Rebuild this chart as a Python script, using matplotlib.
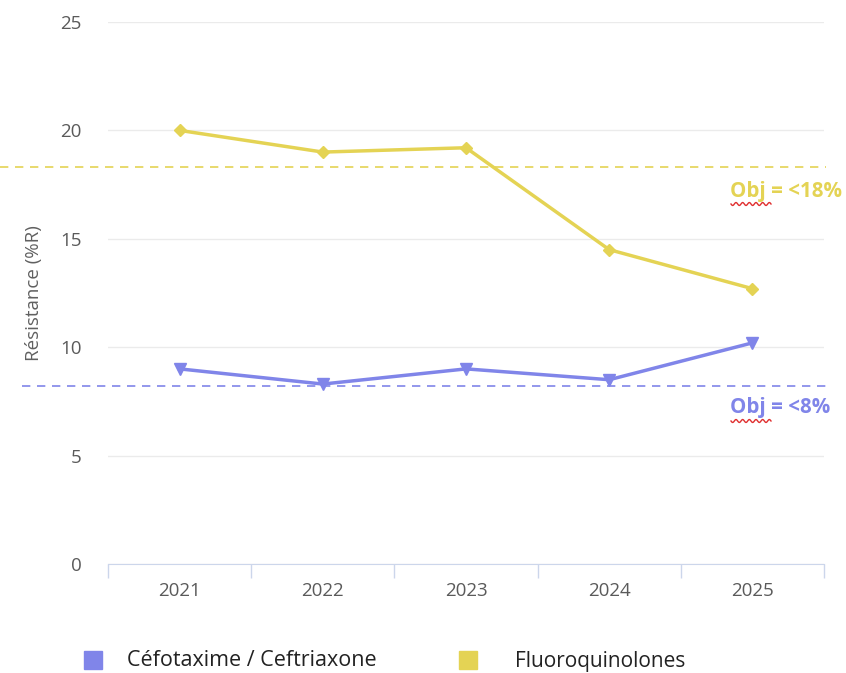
import matplotlib
matplotlib.use("Agg")
import matplotlib.pyplot as plt
import numpy as np

years = ["2021", "2022", "2023", "2024", "2025"]
cefo = [9.0, 8.3, 9.0, 8.5, 10.2]
fluo = [20.0, 19.0, 19.2, 14.5, 12.7]
obj_cefo = 8.2
obj_fluo = 18.3
blue = "#8085e9"
yellow = "#e4d354"

W, H = 846, 673
plt.rcParams['font.family'] = ['Open Sans', 'DejaVu Sans']
fig = plt.figure(figsize=(W/100, H/100), dpi=100)
ax = fig.add_axes([108/W, (H-564)/H, (824-108)/W, (564-22)/H])

x = np.arange(len(years))
ax.plot(x, fluo, color=yellow, lw=2.5, marker='D', ms=6, zorder=3)
ax.plot(x, cefo, color=blue, lw=2.5, marker='v', ms=9, zorder=3)

ax.set_xlim(-0.5, len(years)-0.5)
ax.set_ylim(0, 25)
ax.set_yticks([0, 5, 10, 15, 20, 25])
ax.set_xticks(x)
ax.set_xticklabels(years)
ax.set_xticks(np.arange(-0.5, len(years)), minor=True)
ax.tick_params(axis='x', which='major', length=0, pad=13, labelsize=13.5, labelcolor='#5a5a5a')
ax.tick_params(axis='x', which='minor', length=10, color='#ccd6eb', width=1)
ax.tick_params(axis='y', length=0, pad=19, labelsize=13.5, labelcolor='#5a5a5a')
ax.grid(axis='y', color='#ebebeb', lw=1)
ax.set_axisbelow(True)
for s in ['top', 'right', 'left']:
    ax.spines[s].set_visible(False)
ax.spines['bottom'].set_color('#ccd6eb')
ax.set_ylabel("Résistance (%R)", color='#606060', fontsize=13.5, labelpad=12)

# objective lines extending beyond the axes
ax.plot([-0.5 - 108/143.2, 4.5 + 2/143.2], [obj_fluo]*2, color=yellow, lw=1.2,
        ls=(0, (5, 4)), clip_on=False, zorder=2)
ax.plot([-0.5 - 86/143.2, 4.5 + 2/143.2], [obj_cefo]*2, color=blue, lw=1.2,
        ls=(0, (5, 4)), clip_on=False, zorder=2)

fig.text(730/W, (H-191)/H, "Obj = <18%", color=yellow, fontsize=14.8,
         fontweight='bold', ha='left', va='center')
fig.text(730/W, (H-408)/H, "Obj = <8%", color=blue, fontsize=14.8,
         fontweight='bold', ha='left', va='center')

# spell-check squiggles under "Obj"
for ypix in (204, 421):
    xs = np.linspace(731, 771, 60)
    ys = ypix + 1.5*np.sin((xs - 731) / 40 * 2*np.pi*6)
    fig.add_artist(plt.Line2D(xs/W, (H-ys)/H, color='#e03030', lw=1,
                              transform=fig.transFigure))

# legend
fig.patches.append(plt.Rectangle((84/W, (H-669)/H), 18/W, 18/H, color=blue,
                                 transform=fig.transFigure, figure=fig))
fig.text(127/W, (H-661)/H, "Céfotaxime / Ceftriaxone", fontsize=15.5, color='#222222', va='center')
fig.patches.append(plt.Rectangle((459/W, (H-669)/H), 18/W, 18/H, color=yellow,
                                 transform=fig.transFigure, figure=fig))
fig.text(515/W, (H-661)/H, "Fluoroquinolones", fontsize=15, color='#222222', va='center')

fig.savefig("out.png", dpi=100)
